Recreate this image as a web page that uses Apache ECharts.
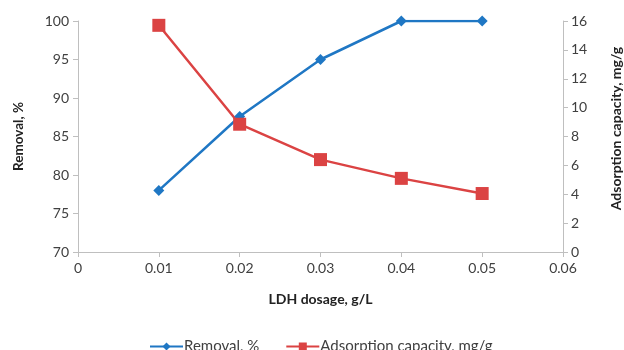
<!DOCTYPE html>
<html lang="en">
    <head>
        <meta charset="UTF-8">
        <title>Removal and adsorption capacity</title>
        <script src="https://cdn.jsdelivr.net/npm/echarts@6/dist/echarts.min.js"></script>
    </head>
    <body style="margin:0">
        <div id="Main" style="width: 624px; height: 350px;"></div>

        <script type="text/javascript">
            // data
            var dosage = [0.01, 0.02, 0.03, 0.04, 0.05];
            var removal = [78.0, 87.6, 95.0, 100, 100];
            var adsorption = [15.7, 8.85, 6.4, 5.1, 4.05];

            var removalName = 'Removal, %';
            var adsorptionName = 'Adsorption capacity, mg/g';

            function pairs(xs, ys) {
                var out = [];
                for (var i = 0; i < xs.length; i++) {
                    out.push([xs[i], ys[i]]);
                }
                return out;
            }

            var font = 'Lato, "Open Sans", sans-serif';
            var gray = '#bfbfbf';

            var myChart = echarts.init(document.getElementById('Main'));
            myChart.setOption({
                animation: false,
                textStyle: { fontFamily: font },
                grid: { left: 78, right: 61, top: 21, bottom: 98, outerBoundsMode: 'none', containLabel: false },
                legend: {
                    top: 334,
                    left: 144,
                    itemWidth: 33,
                    itemHeight: 10,
                    itemGap: 26,
                    textStyle: { fontSize: 15, color: '#404040', fontFamily: font, padding: [0, 0, 0, -4] },
                    data: [removalName, adsorptionName]
                },
                xAxis: {
                    type: 'value',
                    min: 0,
                    max: 0.06,
                    interval: 0.01,
                    name: 'LDH dosage, g/L',
                    nameLocation: 'middle',
                    nameGap: 40,
                    nameTextStyle: { fontWeight: 'bold', fontSize: 14, color: '#222' },
                    axisLine: { lineStyle: { color: gray } },
                    axisTick: { show: true, length: 5, lineStyle: { color: gray } },
                    axisLabel: { fontSize: 14, color: '#404040', margin: 9 },
                    splitLine: { show: false }
                },
                yAxis: [{
                    type: 'value',
                    min: 70,
                    max: 100,
                    interval: 5,
                    name: removalName,
                    nameLocation: 'middle',
                    nameRotate: 90,
                    nameGap: 52,
                    nameTextStyle: { fontWeight: 'bold', fontSize: 13.5, color: '#222' },
                    axisLine: { show: true, lineStyle: { color: gray } },
                    axisTick: { show: true, length: 5, lineStyle: { color: gray } },
                    axisLabel: { fontSize: 14, color: '#404040', margin: 9 },
                    splitLine: { show: false }
                }, {
                    type: 'value',
                    min: 0,
                    max: 16,
                    interval: 2,
                    position: 'right',
                    name: adsorptionName,
                    nameLocation: 'middle',
                    nameRotate: 90,
                    nameGap: 46,
                    nameTextStyle: { fontWeight: 'bold', fontSize: 14, color: '#222', padding: [0, 0, 0, 16] },
                    axisLine: { show: true, lineStyle: { color: gray } },
                    axisTick: { show: true, length: 5, lineStyle: { color: gray } },
                    axisLabel: { fontSize: 14, color: '#404040', margin: 8 },
                    splitLine: { show: false }
                }],
                series: [{
                    name: removalName,
                    type: 'line',
                    yAxisIndex: 0,
                    data: pairs(dosage, removal),
                    symbol: 'diamond',
                    symbolSize: 11,
                    lineStyle: { color: '#1f77c4', width: 2.5 },
                    itemStyle: { color: '#1f77c4' }
                }, {
                    name: adsorptionName,
                    type: 'line',
                    yAxisIndex: 1,
                    data: pairs(dosage, adsorption),
                    symbol: 'rect',
                    symbolSize: 13,
                    lineStyle: { color: '#db4343', width: 2.5 },
                    itemStyle: { color: '#db4343' }
                }]
            });
        </script>
    </body>
</html>
